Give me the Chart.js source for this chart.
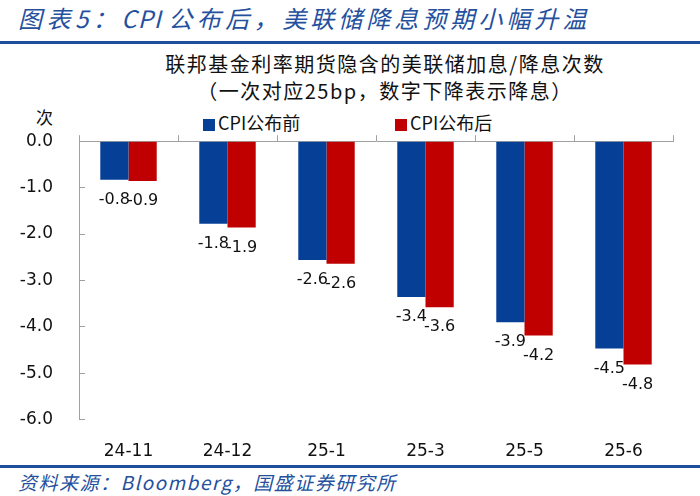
<!DOCTYPE html>
<html>
<head>
<meta charset="utf-8">
<script src="https://cdn.jsdelivr.net/npm/chart.js@4.4.1/dist/chart.umd.min.js"></script>
<style>
  body { margin: 0; background: #fff; }
  #page { position: relative; width: 700px; height: 496px; overflow: hidden; font-family: "Noto Sans CJK SC", sans-serif; }
  .abs { position: absolute; white-space: nowrap; }
  #title { left: 18px; top: 0px; font-size: 24px; line-height: 36px; font-style: italic; color: #24509e; }
  #title .a { letter-spacing: 4.5px; }
  #title .c { letter-spacing: 1px; }
  #title .b { letter-spacing: 4px; }
  .rule { left: 0; width: 700px; height: 3px; background: #1f4f9c; }
  #sub { left: 0; width: 770px; text-align: center; top: 50px; font-size: 20px; line-height: 27px; color: #111; letter-spacing: 1.5px; }
  #unit { left: 36px; top: 105px; font-size: 17px; line-height: 24px; color: #111; }
  .leg { top: 110px; font-size: 18px; line-height: 24px; color: #111; }
  .leg i { display: inline-block; width: 12px; height: 12px; margin-right: 3px; vertical-align: -1px; }
  #chartBox { left: 0; top: 98.5px; width: 700px; height: 385px; }
  #source { left: 18px; top: 469px; font-size: 19px; line-height: 26px; font-style: italic; color: #24509e; letter-spacing: 1.5px; }
</style>
</head>
<body>
<div id="page">
  <div id="title" class="abs"><span class="a">图表5：</span><span class="c">CPI </span><span class="a">公布后，</span><span class="b">美联储降息预期小幅升温</span></div>
  <div class="abs rule" style="top:41px"></div>
  <div id="sub" class="abs">联邦基金利率期货隐含的美联储加息/降息次数<br>（一次对应25bp，数字下降表示降息）</div>
  <div id="unit" class="abs">次</div>
  <div class="abs leg" style="left:203px"><i style="background:#063f96"></i>CPI公布前</div>
  <div class="abs leg" style="left:395px"><i style="background:#c00000"></i>CPI公布后</div>
  <div class="abs rule" style="top:465px"></div>
  <div id="source" class="abs">资料来源：Bloomberg，国盛证券研究所</div>
  <div id="chartBox" class="abs"><canvas id="cutChart"></canvas></div>
</div>
<script>
const months = ["24-11", "24-12", "25-1", "25-3", "25-5", "25-6"];
const beforeCpi = [-0.83, -1.78, -2.56, -3.36, -3.9, -4.47];
const afterCpi = [-0.86, -1.86, -2.64, -3.58, -4.19, -4.81];
const yTicks = [0, -1, -2, -3, -4, -5, -6];

const axisGrey = "#a0a0a0";

// value labels under each bar end
const barLabels = {
  id: "barLabels",
  afterDatasetsDraw(chart) {
    const ctx = chart.ctx;
    ctx.save();
    ctx.font = "16px 'DejaVu Sans'";
    ctx.fillStyle = "#111";
    ctx.textAlign = "center";
    ctx.textBaseline = "middle";
    chart.data.datasets.forEach((ds, i) => {
      chart.getDatasetMeta(i).data.forEach((bar, j) => {
        ctx.fillText(ds.data[j].toFixed(1), bar.x, bar.y + 20);
      });
    });
    ctx.restore();
  },
};

const ctx = document.getElementById("cutChart").getContext("2d");
new Chart(ctx, {
  type: "bar",
  data: {
    labels: months,
    datasets: [
      {
        label: "CPI公布前",
        data: beforeCpi,
        backgroundColor: "#063f96",
        categoryPercentage: 0.57,
        barPercentage: 1.0,
      },
      {
        label: "CPI公布后",
        data: afterCpi,
        backgroundColor: "#c00000",
        categoryPercentage: 0.57,
        barPercentage: 1.0,
      },
    ],
  },
  options: {
    responsive: true,
    maintainAspectRatio: false,
    animation: false,
    layout: {
      padding: { top: 4.7, left: 0, right: 27, bottom: 0 },
    },
    plugins: {
      legend: { display: false },
      tooltip: { enabled: false },
    },
    scales: {
      x: {
        position: "bottom",
        grid: { display: false, drawTicks: false },
        border: { display: false },
        ticks: {
          padding: 22,
          color: "#111",
          font: { family: "DejaVu Sans", size: 17 },
        },
      },
      x2: {
        type: "category",
        position: "top",
        offset: true,
        grid: {
          offset: true,
          drawOnChartArea: false,
          tickLength: 6,
          color: axisGrey,
        },
        border: { color: axisGrey },
        ticks: { display: false },
      },
      y: {
        min: -6,
        max: 0,
        afterFit(scale) {
          scale.width = 79;
        },
        afterBuildTicks(scale) {
          scale.ticks = yTicks.map((v) => ({ value: v }));
        },
        grid: {
          drawOnChartArea: false,
          tickLength: -6,
          color: axisGrey,
        },
        border: { color: axisGrey },
        ticks: {
          padding: 32,
          color: "#111",
          font: { family: "DejaVu Sans", size: 17 },
          callback: (value) => value.toFixed(1),
        },
      },
    },
  },
  plugins: [barLabels],
});
</script>
</body>
</html>
